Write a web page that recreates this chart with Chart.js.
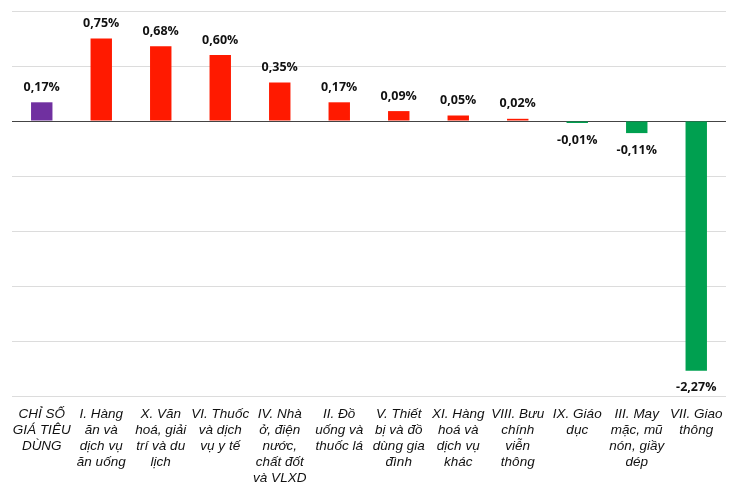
<!DOCTYPE html>
<html>
<head>
<meta charset="utf-8">
<script src="https://cdn.jsdelivr.net/npm/chart.js@4.4.0/dist/chart.umd.min.js"></script>
<style>
  html, body { margin: 0; padding: 0; background: #fff; }
  #wrap { width: 730px; height: 484px; }
</style>
</head>
<body>
<div id="wrap"><canvas id="cpiChart"></canvas></div>
<script>
const categories = [
    ['CHỈ SỐ', 'GIÁ TIÊU', 'DÙNG'],
    ['I. Hàng', 'ăn và', 'dịch vụ', 'ăn uống'],
    ['X. Văn', 'hoá, giải', 'trí và du', 'lịch'],
    ['VI. Thuốc', 'và dịch', 'vụ y tế'],
    ['IV. Nhà', 'ở, điện', 'nước,', 'chất đốt', 'và VLXD'],
    ['II. Đồ', 'uống và', 'thuốc lá'],
    ['V. Thiết', 'bị và đồ', 'dùng gia', 'đình'],
    ['XI. Hàng', 'hoá và', 'dịch vụ', 'khác'],
    ['VIII. Bưu', 'chính', 'viễn', 'thông'],
    ['IX. Giáo', 'dục'],
    ['III. May', 'mặc, mũ', 'nón, giầy', 'dép'],
    ['VII. Giao', 'thông']
];
const changes = [0.17, 0.75, 0.68, 0.60, 0.35, 0.17, 0.09, 0.05, 0.02, -0.01, -0.11, -2.27];

const barColors = changes.map((v, i) => i === 0 ? '#7030A0' : (v >= 0 ? '#FF1A00' : '#00A050'));

// draw the value labels above / below each bar
const valueLabels = {
    id: 'valueLabels',
    afterDatasetsDraw(chart) {
        const ctx = chart.ctx;
        const meta = chart.getDatasetMeta(0);
        ctx.save();
        ctx.font = 'bold 12.5px "Open Sans", sans-serif';
        ctx.fillStyle = '#111';
        ctx.textAlign = 'center';
        ctx.textBaseline = 'middle';
        meta.data.forEach((bar, i) => {
            const v = changes[i];
            const txt = v.toFixed(2).replace('.', ',') + '%';
            const y = v >= 0 ? bar.y - 15 : bar.y + 17;
            ctx.fillText(txt, bar.x, y);
        });
        ctx.restore();
    }
};

new Chart(document.getElementById('cpiChart').getContext('2d'), {
    type: 'bar',
    data: {
        labels: categories,
        datasets: [{
            data: changes,
            backgroundColor: barColors,
            barPercentage: 0.45,
            categoryPercentage: 0.8,
            minBarLength: 2
        }]
    },
    options: {
        responsive: true,
        maintainAspectRatio: false,
        animation: false,
        layout: { padding: { left: 12, right: 4, top: 11, bottom: 0 } },
        plugins: { legend: { display: false }, tooltip: { enabled: false } },
        scales: {
            x: {
                grid: { display: false },
                border: { display: false },
                ticks: {
                    color: '#111',
                    padding: 2,
                    maxRotation: 0,
                    autoSkip: false,
                    font: { family: '"Liberation Sans", Arial, sans-serif', size: 13.5, style: 'italic', lineHeight: 1.185 }
                },
                afterFit(scale) { scale.height = 88; }
            },
            y: {
                min: -2.5,
                max: 1,
                ticks: { display: false, stepSize: 0.5 },
                border: { display: false },
                grid: {
                    drawTicks: false,
                    color: ctx => ctx.tick && ctx.tick.value === 0 ? '#444' : '#dcdcdc'
                },
                afterFit(scale) { scale.width = 0; }
            }
        }
    },
    plugins: [valueLabels]
});
</script>
</body>
</html>
